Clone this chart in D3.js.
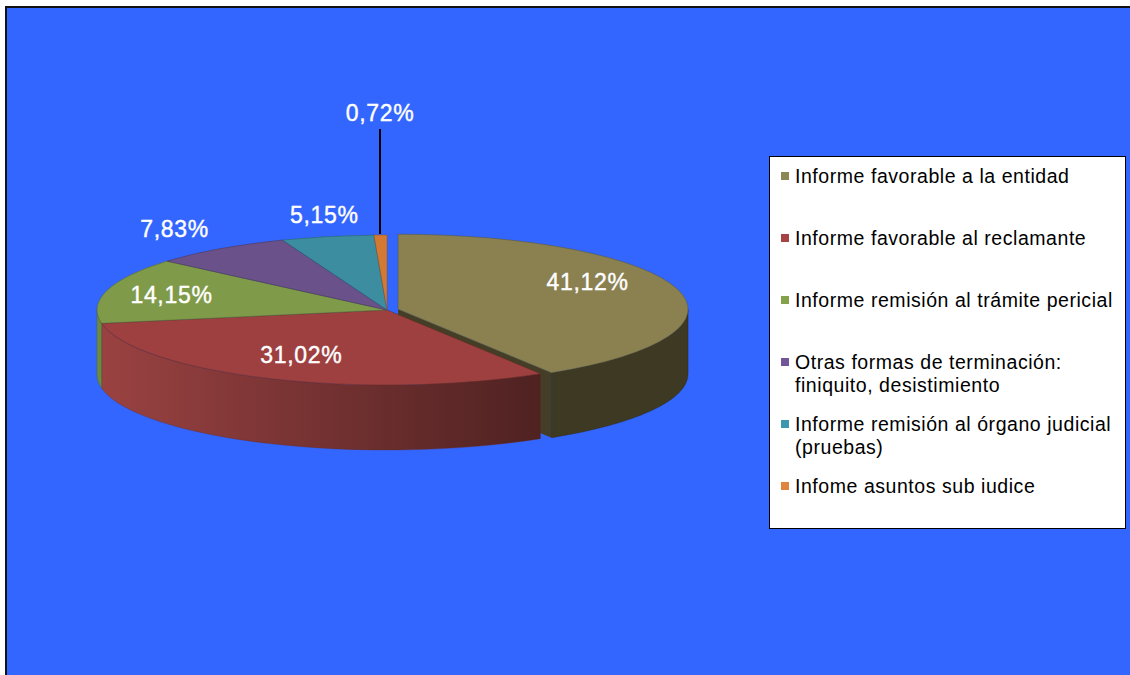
<!DOCTYPE html>
<html>
<head>
<meta charset="utf-8">
<script src="https://cdn.jsdelivr.net/npm/d3@7/dist/d3.min.js"></script>
<style>
  html, body { margin: 0; padding: 0; background: #ffffff; }
  svg { display: block; }
</style>
</head>
<body>
<svg id="chart" width="1130" height="675"></svg>
<script>
// ---- data ----
const categories = [
  "Informe favorable a la entidad",
  "Informe favorable al reclamante",
  "Informe remisión al trámite pericial",
  "Otras formas de terminación: finiquito, desistimiento",
  "Informe remisión al órgano judicial (pruebas)",
  "Infome asuntos sub iudice"
];
const legendLines = [
  ["Informe favorable a la entidad"],
  ["Informe favorable al reclamante"],
  ["Informe remisión al trámite pericial"],
  ["Otras formas de terminación:", "finiquito, desistimiento"],
  ["Informe remisión al órgano judicial", "(pruebas)"],
  ["Infome asuntos sub iudice"]
];
const values = [41.12, 31.02, 14.15, 7.83, 5.15, 0.72];
const exploded = [true, false, false, false, false, false];

// ---- styles ----
const topColors    = ["#8A8050", "#9E4040", "#7F9A48", "#6A5189", "#3C8DA0", "#D27A33"];
const wallColors   = ["#3D3922", "#9B4242", "#6E8A3E", "#5A4475", "#31788A", "#B0652A"];
const legendColors = ["#8E8653", "#A84343", "#84A24A", "#71569A", "#3E96AD", "#E0843E"];

// label placement (layout only): radial factor on the top ellipse and vertical shift
const labelRadius = [0.68, 0.73, 0.77, 1.27, 1.05, 1.0];
const labelShift  = [-13, -5, 0, -3, -18, 0];

const svg = d3.select("#chart");
const W = 1130, H = 675;

// background + frame
svg.append("rect").attr("x", 0).attr("y", 0).attr("width", W).attr("height", H).attr("fill", "#ffffff");
svg.append("rect").attr("x", 6).attr("y", 7).attr("width", W + 10).attr("height", H + 10)
  .attr("fill", "#3366FF").attr("stroke", "#111").attr("stroke-width", 2);

// ---- pie geometry ----
const cx = 387, cy = 310, rx = 290, ry = 75, depth = 65, explodeDist = 11.5;
const pie = d3.pie().sort(null).value(d => d).startAngle(0).endAngle(2 * Math.PI);
const arcs = pie(values);
const fmt = d3.format(".2f");
const labelText = v => fmt(v).replace(".", ",") + "%";

function P(a, z, o) {
  return [o[0] + cx + rx * Math.sin(a), o[1] + cy - ry * Math.cos(a) + z];
}
function offsetOf(d, i) {
  if (!exploded[i]) return [0, 0];
  const m = (d.startAngle + d.endAngle) / 2;
  return [explodeDist * Math.sin(m), -explodeDist * Math.cos(m) * (ry / rx)];
}
function topPath(d, o) {
  const p0 = P(d.startAngle, 0, o), p1 = P(d.endAngle, 0, o);
  const large = (d.endAngle - d.startAngle) > Math.PI ? 1 : 0;
  return `M${o[0] + cx},${o[1] + cy}L${p0}A${rx},${ry} 0 ${large} 1 ${p1}Z`;
}
function wallPath(d, o) {
  const b0 = Math.max(d.startAngle, Math.PI / 2);
  const b1 = Math.min(d.endAngle, 3 * Math.PI / 2);
  if (b1 <= b0) return null;
  const a = P(b0, 0, o), b = P(b1, 0, o), c = P(b1, depth, o), e = P(b0, depth, o);
  return `M${a}A${rx},${ry} 0 0 1 ${b}L${c}A${rx},${ry} 0 0 0 ${e}Z`;
}
function faceVisible(angle, isEnd) {
  // outward normal of the radial face in plane (x, z-away)
  const s = isEnd ? 1 : -1;
  const nz = s * (-Math.sin(angle));
  return nz < -1e-6;
}
function radialFace(angle, o) {
  const c0 = [o[0] + cx, o[1] + cy], r0 = P(angle, 0, o);
  return `M${c0}L${r0}L${[r0[0], r0[1] + depth]}L${[c0[0], c0[1] + depth]}Z`;
}

// gradient for red wall (light left -> dark right)
const defs = svg.append("defs");
arcs.forEach((d, i) => {
  const g = defs.append("linearGradient").attr("id", "wall" + i)
    .attr("gradientUnits", "userSpaceOnUse")
    .attr("x1", cx - rx).attr("x2", cx + rx * 0.55).attr("y1", 0).attr("y2", 0);
  const base = d3.color(wallColors[i]);
  g.append("stop").attr("offset", 0).attr("stop-color", base.formatHex());
  g.append("stop").attr("offset", 1).attr("stop-color", d3.interpolateRgb(base, "#000")(0.5));
});

const pieG = svg.append("g");
const order = d3.range(arcs.length).sort((a, b) => (exploded[b] ? 1 : 0) - (exploded[a] ? 1 : 0));

// exploded slices first (fully), then walls of the rest, then tops of the rest
function drawSliceParts(i, parts) {
  const d = arcs[i], o = offsetOf(d, i);
  if (parts.includes("faces")) {
    [[d.startAngle, false], [d.endAngle, true]].forEach(([ang, isEnd]) => {
      if (exploded[i] && faceVisible(ang, isEnd)) {
        pieG.append("path").attr("d", radialFace(ang, o))
          .attr("fill", d3.color(wallColors[i]).brighter(0.25)).attr("stroke", "none");
      }
    });
  }
  if (parts.includes("wall")) {
    const wp = wallPath(d, o);
    if (wp) {
      pieG.append("path").attr("d", wp)
        .attr("fill", i === 1 ? "url(#wall1)" : wallColors[i])
        .attr("stroke", d3.color(wallColors[i]).darker(1.2)).attr("stroke-width", 0.6)
        .attr("stroke-opacity", 0.6);
    }
  }
  if (parts.includes("top")) {
    pieG.append("path").attr("d", topPath(d, o))
      .attr("fill", topColors[i])
      .attr("stroke", d3.color(topColors[i]).darker(1.2)).attr("stroke-width", 0.7)
      .attr("stroke-opacity", 0.7);
  }
}
order.filter(i => exploded[i]).forEach(i => drawSliceParts(i, ["faces", "wall", "top"]));
order.filter(i => !exploded[i]).forEach(i => drawSliceParts(i, ["wall"]));
order.filter(i => !exploded[i]).forEach(i => drawSliceParts(i, ["top"]));

// ---- data labels ----
const labG = svg.append("g")
  .attr("font-family", "'Liberation Sans', Arial, sans-serif")
  .attr("font-size", 23).attr("fill", "#ffffff")
  .attr("text-anchor", "middle");
arcs.forEach((d, i) => {
  const o = offsetOf(d, i);
  const m = (d.startAngle + d.endAngle) / 2;
  if (values[i] < 1) {
    const rim = P(m, 0, o);
    const lx = Math.round(rim[0]);
    labG.append("line").attr("x1", lx).attr("x2", lx)
      .attr("y1", rim[1] - 1).attr("y2", rim[1] - 106)
      .attr("stroke", "#000").attr("stroke-width", 2);
    labG.append("text").attr("x", lx).attr("y", rim[1] - 122).attr("dy", "0.35em")
      .attr("letter-spacing", 0.7).attr("stroke", "#fff").attr("stroke-width", 0.4)
      .text(labelText(values[i]));
  } else {
    const k = labelRadius[i];
    const x = o[0] + cx + k * rx * Math.sin(m);
    const y = o[1] + cy - k * ry * Math.cos(m) + labelShift[i];
    labG.append("text").attr("x", x).attr("y", y).attr("dy", "0.35em")
      .attr("letter-spacing", 0.7).attr("stroke", "#fff").attr("stroke-width", 0.4)
      .text(labelText(values[i]));
  }
});

// ---- legend ----
const lg = svg.append("g");
lg.append("rect").attr("x", 769.5).attr("y", 156.5).attr("width", 356).attr("height", 372)
  .attr("fill", "#ffffff").attr("stroke", "#000").attr("stroke-width", 1);
const legendY = d3.scalePoint().domain(d3.range(categories.length)).range([176, 486]);
categories.forEach((c, i) => {
  const y = legendY(i);
  lg.append("rect").attr("x", 781).attr("y", y - 4).attr("width", 8).attr("height", 8)
    .attr("fill", legendColors[i]);
  legendLines[i].forEach((line, j) => {
    lg.append("text").attr("x", 795).attr("y", y + j * 23).attr("dy", "0.35em")
      .attr("font-family", "'Liberation Sans', Arial, sans-serif")
      .attr("font-size", 19.5).attr("letter-spacing", 0.55).attr("fill", "#000")
      .text(line);
  });
});
</script>
</body>
</html>
